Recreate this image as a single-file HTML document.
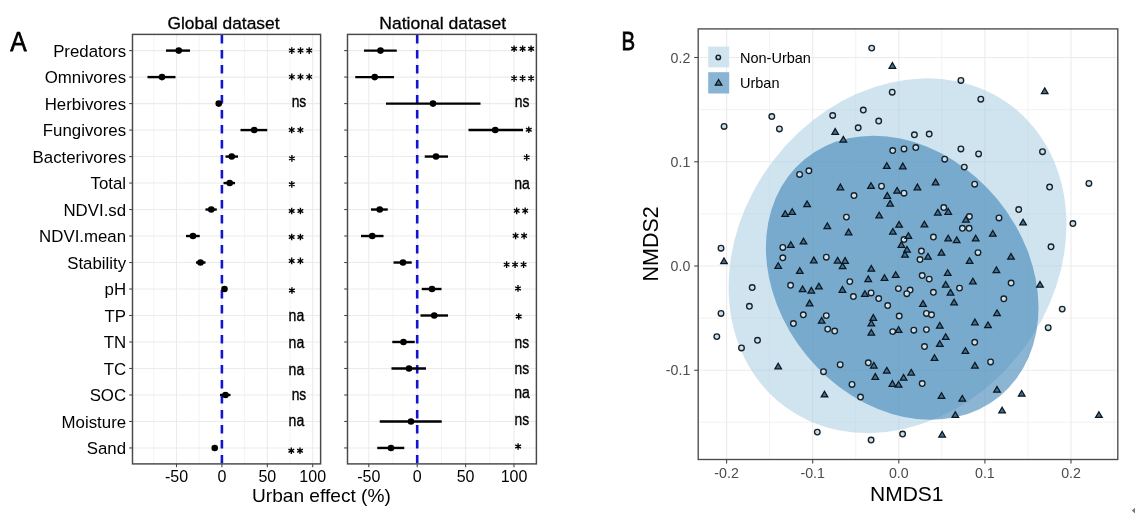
<!DOCTYPE html>
<html><head><meta charset="utf-8"><style>
html,body{margin:0;padding:0;background:#fff;width:1135px;height:513px;overflow:hidden}
svg{display:block;filter:blur(0.3px);font-family:"Liberation Sans", sans-serif}
</style></head><body>
<svg width="1135" height="513" viewBox="0 0 1135 513">
<rect width="1135" height="513" fill="#fff"/>
<text x="10.2" y="50.7" font-size="27.5" textLength="16.4" lengthAdjust="spacingAndGlyphs" fill="#000" stroke="#000" stroke-width="0.75">A</text>
<text x="126.1" y="56.80" font-size="17.4" text-anchor="end" textLength="72.97" lengthAdjust="spacingAndGlyphs" fill="#000">Predators</text>
<text x="126.1" y="83.29" font-size="17.4" text-anchor="end" textLength="81.36" lengthAdjust="spacingAndGlyphs" fill="#000">Omnivores</text>
<text x="126.1" y="109.78" font-size="17.4" text-anchor="end" textLength="81.37" lengthAdjust="spacingAndGlyphs" fill="#000">Herbivores</text>
<text x="126.1" y="136.27" font-size="17.4" text-anchor="end" textLength="83.25" lengthAdjust="spacingAndGlyphs" fill="#000">Fungivores</text>
<text x="126.1" y="162.76" font-size="17.4" text-anchor="end" textLength="93.54" lengthAdjust="spacingAndGlyphs" fill="#000">Bacterivores</text>
<text x="126.1" y="189.25" font-size="17.4" text-anchor="end" textLength="35.55" lengthAdjust="spacingAndGlyphs" fill="#000">Total</text>
<text x="126.1" y="215.74" font-size="17.4" text-anchor="end" textLength="62.66" lengthAdjust="spacingAndGlyphs" fill="#000">NDVI.sd</text>
<text x="126.1" y="242.23" font-size="17.4" text-anchor="end" textLength="86.99" lengthAdjust="spacingAndGlyphs" fill="#000">NDVI.mean</text>
<text x="126.1" y="268.72" font-size="17.4" text-anchor="end" textLength="58.93" lengthAdjust="spacingAndGlyphs" fill="#000">Stability</text>
<text x="126.1" y="295.21" font-size="17.4" text-anchor="end" textLength="21.51" lengthAdjust="spacingAndGlyphs" fill="#000">pH</text>
<text x="126.1" y="321.70" font-size="17.4" text-anchor="end" textLength="21.51" lengthAdjust="spacingAndGlyphs" fill="#000">TP</text>
<text x="126.1" y="348.19" font-size="17.4" text-anchor="end" textLength="22.43" lengthAdjust="spacingAndGlyphs" fill="#000">TN</text>
<text x="126.1" y="374.68" font-size="17.4" text-anchor="end" textLength="22.43" lengthAdjust="spacingAndGlyphs" fill="#000">TC</text>
<text x="126.1" y="401.17" font-size="17.4" text-anchor="end" textLength="36.47" lengthAdjust="spacingAndGlyphs" fill="#000">SOC</text>
<text x="126.1" y="427.66" font-size="17.4" text-anchor="end" textLength="64.53" lengthAdjust="spacingAndGlyphs" fill="#000">Moisture</text>
<text x="126.1" y="454.15" font-size="17.4" text-anchor="end" textLength="39.31" lengthAdjust="spacingAndGlyphs" fill="#000">Sand</text>
<text x="223.5" y="29.4" font-size="17.4" text-anchor="middle" textLength="112" lengthAdjust="spacingAndGlyphs" fill="#000" stroke="#000" stroke-width="0.3">Global dataset</text>
<text x="442.7" y="29.4" font-size="17.4" text-anchor="middle" textLength="127" lengthAdjust="spacingAndGlyphs" fill="#000" stroke="#000" stroke-width="0.3">National dataset</text>
<line x1="153.80" y1="34.4" x2="153.80" y2="463.9" stroke="#ebebeb" stroke-width="0.6"/>
<line x1="176.50" y1="34.4" x2="176.50" y2="463.9" stroke="#ebebeb" stroke-width="1.1"/>
<line x1="199.20" y1="34.4" x2="199.20" y2="463.9" stroke="#ebebeb" stroke-width="0.6"/>
<line x1="221.90" y1="34.4" x2="221.90" y2="463.9" stroke="#ebebeb" stroke-width="1.1"/>
<line x1="244.60" y1="34.4" x2="244.60" y2="463.9" stroke="#ebebeb" stroke-width="0.6"/>
<line x1="267.30" y1="34.4" x2="267.30" y2="463.9" stroke="#ebebeb" stroke-width="1.1"/>
<line x1="290.00" y1="34.4" x2="290.00" y2="463.9" stroke="#ebebeb" stroke-width="0.6"/>
<line x1="312.70" y1="34.4" x2="312.70" y2="463.9" stroke="#ebebeb" stroke-width="1.1"/>
<line x1="132.5" y1="50.60" x2="320.6" y2="50.60" stroke="#ebebeb" stroke-width="1.1"/>
<line x1="132.5" y1="77.09" x2="320.6" y2="77.09" stroke="#ebebeb" stroke-width="1.1"/>
<line x1="132.5" y1="103.58" x2="320.6" y2="103.58" stroke="#ebebeb" stroke-width="1.1"/>
<line x1="132.5" y1="130.07" x2="320.6" y2="130.07" stroke="#ebebeb" stroke-width="1.1"/>
<line x1="132.5" y1="156.56" x2="320.6" y2="156.56" stroke="#ebebeb" stroke-width="1.1"/>
<line x1="132.5" y1="183.05" x2="320.6" y2="183.05" stroke="#ebebeb" stroke-width="1.1"/>
<line x1="132.5" y1="209.54" x2="320.6" y2="209.54" stroke="#ebebeb" stroke-width="1.1"/>
<line x1="132.5" y1="236.03" x2="320.6" y2="236.03" stroke="#ebebeb" stroke-width="1.1"/>
<line x1="132.5" y1="262.52" x2="320.6" y2="262.52" stroke="#ebebeb" stroke-width="1.1"/>
<line x1="132.5" y1="289.01" x2="320.6" y2="289.01" stroke="#ebebeb" stroke-width="1.1"/>
<line x1="132.5" y1="315.50" x2="320.6" y2="315.50" stroke="#ebebeb" stroke-width="1.1"/>
<line x1="132.5" y1="341.99" x2="320.6" y2="341.99" stroke="#ebebeb" stroke-width="1.1"/>
<line x1="132.5" y1="368.48" x2="320.6" y2="368.48" stroke="#ebebeb" stroke-width="1.1"/>
<line x1="132.5" y1="394.97" x2="320.6" y2="394.97" stroke="#ebebeb" stroke-width="1.1"/>
<line x1="132.5" y1="421.46" x2="320.6" y2="421.46" stroke="#ebebeb" stroke-width="1.1"/>
<line x1="132.5" y1="447.95" x2="320.6" y2="447.95" stroke="#ebebeb" stroke-width="1.1"/>
<line x1="221.90" y1="35.0" x2="221.90" y2="463.9" stroke="#1414d0" stroke-width="2.6" stroke-dasharray="8.6 6.4"/>
<line x1="166" y1="50.60" x2="190" y2="50.60" stroke="#000" stroke-width="2.4"/>
<circle cx="178.75" cy="50.60" r="3.3" fill="#000"/>
<line x1="147.5" y1="77.09" x2="175.5" y2="77.09" stroke="#000" stroke-width="2.4"/>
<circle cx="162" cy="77.09" r="3.3" fill="#000"/>
<line x1="217" y1="103.58" x2="221" y2="103.58" stroke="#000" stroke-width="2.4"/>
<circle cx="218.75" cy="103.58" r="3.3" fill="#000"/>
<line x1="240.5" y1="130.07" x2="267.25" y2="130.07" stroke="#000" stroke-width="2.4"/>
<circle cx="254.25" cy="130.07" r="3.3" fill="#000"/>
<line x1="225.5" y1="156.56" x2="238" y2="156.56" stroke="#000" stroke-width="2.4"/>
<circle cx="231.75" cy="156.56" r="3.3" fill="#000"/>
<line x1="223.5" y1="183.05" x2="235" y2="183.05" stroke="#000" stroke-width="2.4"/>
<circle cx="229.75" cy="183.05" r="3.3" fill="#000"/>
<line x1="205.5" y1="209.54" x2="216.75" y2="209.54" stroke="#000" stroke-width="2.4"/>
<circle cx="211.25" cy="209.54" r="3.3" fill="#000"/>
<line x1="186" y1="236.03" x2="199.75" y2="236.03" stroke="#000" stroke-width="2.4"/>
<circle cx="193" cy="236.03" r="3.3" fill="#000"/>
<line x1="196" y1="262.52" x2="205.5" y2="262.52" stroke="#000" stroke-width="2.4"/>
<circle cx="200.5" cy="262.52" r="3.3" fill="#000"/>
<line x1="222" y1="289.01" x2="227" y2="289.01" stroke="#000" stroke-width="2.4"/>
<circle cx="224.5" cy="289.01" r="3.3" fill="#000"/>
<line x1="220" y1="394.97" x2="230.5" y2="394.97" stroke="#000" stroke-width="2.4"/>
<circle cx="225.5" cy="394.97" r="3.3" fill="#000"/>
<line x1="213" y1="447.95" x2="216" y2="447.95" stroke="#000" stroke-width="2.4"/>
<circle cx="214.75" cy="447.95" r="3.3" fill="#000"/>
<rect x="132.5" y="34.4" width="188.10" height="429.50" fill="none" stroke="#484848" stroke-width="1.45"/>
<line x1="129.20" y1="50.60" x2="132.5" y2="50.60" stroke="#484848" stroke-width="1.1"/>
<line x1="129.20" y1="77.09" x2="132.5" y2="77.09" stroke="#484848" stroke-width="1.1"/>
<line x1="129.20" y1="103.58" x2="132.5" y2="103.58" stroke="#484848" stroke-width="1.1"/>
<line x1="129.20" y1="130.07" x2="132.5" y2="130.07" stroke="#484848" stroke-width="1.1"/>
<line x1="129.20" y1="156.56" x2="132.5" y2="156.56" stroke="#484848" stroke-width="1.1"/>
<line x1="129.20" y1="183.05" x2="132.5" y2="183.05" stroke="#484848" stroke-width="1.1"/>
<line x1="129.20" y1="209.54" x2="132.5" y2="209.54" stroke="#484848" stroke-width="1.1"/>
<line x1="129.20" y1="236.03" x2="132.5" y2="236.03" stroke="#484848" stroke-width="1.1"/>
<line x1="129.20" y1="262.52" x2="132.5" y2="262.52" stroke="#484848" stroke-width="1.1"/>
<line x1="129.20" y1="289.01" x2="132.5" y2="289.01" stroke="#484848" stroke-width="1.1"/>
<line x1="129.20" y1="315.50" x2="132.5" y2="315.50" stroke="#484848" stroke-width="1.1"/>
<line x1="129.20" y1="341.99" x2="132.5" y2="341.99" stroke="#484848" stroke-width="1.1"/>
<line x1="129.20" y1="368.48" x2="132.5" y2="368.48" stroke="#484848" stroke-width="1.1"/>
<line x1="129.20" y1="394.97" x2="132.5" y2="394.97" stroke="#484848" stroke-width="1.1"/>
<line x1="129.20" y1="421.46" x2="132.5" y2="421.46" stroke="#484848" stroke-width="1.1"/>
<line x1="129.20" y1="447.95" x2="132.5" y2="447.95" stroke="#484848" stroke-width="1.1"/>
<line x1="176.50" y1="463.9" x2="176.50" y2="467.20" stroke="#484848" stroke-width="1.1"/>
<text x="176.50" y="481.7" font-size="16" text-anchor="middle" fill="#000">-50</text>
<line x1="221.90" y1="463.9" x2="221.90" y2="467.20" stroke="#484848" stroke-width="1.1"/>
<text x="221.90" y="481.7" font-size="16" text-anchor="middle" fill="#000">0</text>
<line x1="267.30" y1="463.9" x2="267.30" y2="467.20" stroke="#484848" stroke-width="1.1"/>
<text x="267.30" y="481.7" font-size="16" text-anchor="middle" fill="#000">50</text>
<line x1="312.70" y1="463.9" x2="312.70" y2="467.20" stroke="#484848" stroke-width="1.1"/>
<text x="312.70" y="481.7" font-size="16" text-anchor="middle" fill="#000">100</text>
<path d="M291.80 47.30V53.90M288.94 48.95L294.66 52.25M288.94 52.25L294.66 48.95" stroke="#000" stroke-width="1.35"/>
<path d="M300.50 47.30V53.90M297.64 48.95L303.36 52.25M297.64 52.25L303.36 48.95" stroke="#000" stroke-width="1.35"/>
<path d="M309.20 47.30V53.90M306.34 48.95L312.06 52.25M306.34 52.25L312.06 48.95" stroke="#000" stroke-width="1.35"/>
<path d="M291.80 73.59V80.19M288.94 75.24L294.66 78.54M288.94 78.54L294.66 75.24" stroke="#000" stroke-width="1.35"/>
<path d="M300.50 73.59V80.19M297.64 75.24L303.36 78.54M297.64 78.54L303.36 75.24" stroke="#000" stroke-width="1.35"/>
<path d="M309.20 73.59V80.19M306.34 75.24L312.06 78.54M306.34 78.54L312.06 75.24" stroke="#000" stroke-width="1.35"/>
<text x="291.7" y="107.28" font-size="16" textLength="14.6" lengthAdjust="spacingAndGlyphs" fill="#000" stroke="#000" stroke-width="0.35">ns</text>
<path d="M291.70 126.77V133.37M288.84 128.42L294.56 131.72M288.84 131.72L294.56 128.42" stroke="#000" stroke-width="1.35"/>
<path d="M300.40 126.77V133.37M297.54 128.42L303.26 131.72M297.54 131.72L303.26 128.42" stroke="#000" stroke-width="1.35"/>
<path d="M291.90 155.06V161.66M289.04 156.71L294.76 160.01M289.04 160.01L294.76 156.71" stroke="#000" stroke-width="1.35"/>
<path d="M291.80 181.05V187.65M288.94 182.70L294.66 186.00M288.94 186.00L294.66 182.70" stroke="#000" stroke-width="1.35"/>
<path d="M291.70 207.74V214.34M288.84 209.39L294.56 212.69M288.84 212.69L294.56 209.39" stroke="#000" stroke-width="1.35"/>
<path d="M300.40 207.74V214.34M297.54 209.39L303.26 212.69M297.54 212.69L303.26 209.39" stroke="#000" stroke-width="1.35"/>
<path d="M291.70 233.73V240.33M288.84 235.38L294.56 238.68M288.84 238.68L294.56 235.38" stroke="#000" stroke-width="1.35"/>
<path d="M300.40 233.73V240.33M297.54 235.38L303.26 238.68M297.54 238.68L303.26 235.38" stroke="#000" stroke-width="1.35"/>
<path d="M291.70 257.62V264.22M288.84 259.27L294.56 262.57M288.84 262.57L294.56 259.27" stroke="#000" stroke-width="1.35"/>
<path d="M300.40 257.62V264.22M297.54 259.27L303.26 262.57M297.54 262.57L303.26 259.27" stroke="#000" stroke-width="1.35"/>
<path d="M291.90 287.21V293.81M289.04 288.86L294.76 292.16M289.04 292.16L294.76 288.86" stroke="#000" stroke-width="1.35"/>
<text x="288.6" y="320.70" font-size="16" textLength="15.6" lengthAdjust="spacingAndGlyphs" fill="#000" stroke="#000" stroke-width="0.35">na</text>
<text x="288.6" y="347.59" font-size="16" textLength="15.6" lengthAdjust="spacingAndGlyphs" fill="#000" stroke="#000" stroke-width="0.35">na</text>
<text x="288.6" y="374.58" font-size="16" textLength="15.6" lengthAdjust="spacingAndGlyphs" fill="#000" stroke="#000" stroke-width="0.35">na</text>
<text x="291.7" y="399.97" font-size="16" textLength="14.6" lengthAdjust="spacingAndGlyphs" fill="#000" stroke="#000" stroke-width="0.35">ns</text>
<text x="288.6" y="426.26" font-size="16" textLength="15.6" lengthAdjust="spacingAndGlyphs" fill="#000" stroke="#000" stroke-width="0.35">na</text>
<path d="M291.30 447.45V454.05M288.44 449.10L294.16 452.40M288.44 452.40L294.16 449.10" stroke="#000" stroke-width="1.35"/>
<path d="M300.00 447.45V454.05M297.14 449.10L302.86 452.40M297.14 452.40L302.86 449.10" stroke="#000" stroke-width="1.35"/>
<line x1="368.80" y1="34.4" x2="368.80" y2="463.9" stroke="#ebebeb" stroke-width="1.1"/>
<line x1="393.00" y1="34.4" x2="393.00" y2="463.9" stroke="#ebebeb" stroke-width="0.6"/>
<line x1="417.20" y1="34.4" x2="417.20" y2="463.9" stroke="#ebebeb" stroke-width="1.1"/>
<line x1="441.40" y1="34.4" x2="441.40" y2="463.9" stroke="#ebebeb" stroke-width="0.6"/>
<line x1="465.60" y1="34.4" x2="465.60" y2="463.9" stroke="#ebebeb" stroke-width="1.1"/>
<line x1="489.80" y1="34.4" x2="489.80" y2="463.9" stroke="#ebebeb" stroke-width="0.6"/>
<line x1="514.00" y1="34.4" x2="514.00" y2="463.9" stroke="#ebebeb" stroke-width="1.1"/>
<line x1="347.5" y1="50.60" x2="536.4" y2="50.60" stroke="#ebebeb" stroke-width="1.1"/>
<line x1="347.5" y1="77.09" x2="536.4" y2="77.09" stroke="#ebebeb" stroke-width="1.1"/>
<line x1="347.5" y1="103.58" x2="536.4" y2="103.58" stroke="#ebebeb" stroke-width="1.1"/>
<line x1="347.5" y1="130.07" x2="536.4" y2="130.07" stroke="#ebebeb" stroke-width="1.1"/>
<line x1="347.5" y1="156.56" x2="536.4" y2="156.56" stroke="#ebebeb" stroke-width="1.1"/>
<line x1="347.5" y1="183.05" x2="536.4" y2="183.05" stroke="#ebebeb" stroke-width="1.1"/>
<line x1="347.5" y1="209.54" x2="536.4" y2="209.54" stroke="#ebebeb" stroke-width="1.1"/>
<line x1="347.5" y1="236.03" x2="536.4" y2="236.03" stroke="#ebebeb" stroke-width="1.1"/>
<line x1="347.5" y1="262.52" x2="536.4" y2="262.52" stroke="#ebebeb" stroke-width="1.1"/>
<line x1="347.5" y1="289.01" x2="536.4" y2="289.01" stroke="#ebebeb" stroke-width="1.1"/>
<line x1="347.5" y1="315.50" x2="536.4" y2="315.50" stroke="#ebebeb" stroke-width="1.1"/>
<line x1="347.5" y1="341.99" x2="536.4" y2="341.99" stroke="#ebebeb" stroke-width="1.1"/>
<line x1="347.5" y1="368.48" x2="536.4" y2="368.48" stroke="#ebebeb" stroke-width="1.1"/>
<line x1="347.5" y1="394.97" x2="536.4" y2="394.97" stroke="#ebebeb" stroke-width="1.1"/>
<line x1="347.5" y1="421.46" x2="536.4" y2="421.46" stroke="#ebebeb" stroke-width="1.1"/>
<line x1="347.5" y1="447.95" x2="536.4" y2="447.95" stroke="#ebebeb" stroke-width="1.1"/>
<line x1="417.20" y1="35.0" x2="417.20" y2="463.9" stroke="#1414d0" stroke-width="2.6" stroke-dasharray="8.6 6.4"/>
<line x1="364" y1="50.60" x2="396.75" y2="50.60" stroke="#000" stroke-width="2.4"/>
<circle cx="380.5" cy="50.60" r="3.3" fill="#000"/>
<line x1="355.25" y1="77.09" x2="394" y2="77.09" stroke="#000" stroke-width="2.4"/>
<circle cx="374.75" cy="77.09" r="3.3" fill="#000"/>
<line x1="386" y1="103.58" x2="480.5" y2="103.58" stroke="#000" stroke-width="2.4"/>
<circle cx="433" cy="103.58" r="3.3" fill="#000"/>
<line x1="468.5" y1="130.07" x2="523" y2="130.07" stroke="#000" stroke-width="2.4"/>
<circle cx="495.25" cy="130.07" r="3.3" fill="#000"/>
<line x1="424.75" y1="156.56" x2="448" y2="156.56" stroke="#000" stroke-width="2.4"/>
<circle cx="436" cy="156.56" r="3.3" fill="#000"/>
<line x1="371" y1="209.54" x2="387.75" y2="209.54" stroke="#000" stroke-width="2.4"/>
<circle cx="379.75" cy="209.54" r="3.3" fill="#000"/>
<line x1="361" y1="236.03" x2="383.5" y2="236.03" stroke="#000" stroke-width="2.4"/>
<circle cx="372.25" cy="236.03" r="3.3" fill="#000"/>
<line x1="393.5" y1="262.52" x2="411.75" y2="262.52" stroke="#000" stroke-width="2.4"/>
<circle cx="403" cy="262.52" r="3.3" fill="#000"/>
<line x1="421.75" y1="289.01" x2="441.5" y2="289.01" stroke="#000" stroke-width="2.4"/>
<circle cx="432" cy="289.01" r="3.3" fill="#000"/>
<line x1="420.5" y1="315.50" x2="448" y2="315.50" stroke="#000" stroke-width="2.4"/>
<circle cx="434.25" cy="315.50" r="3.3" fill="#000"/>
<line x1="392.25" y1="341.99" x2="414.75" y2="341.99" stroke="#000" stroke-width="2.4"/>
<circle cx="403.5" cy="341.99" r="3.3" fill="#000"/>
<line x1="391.5" y1="368.48" x2="426" y2="368.48" stroke="#000" stroke-width="2.4"/>
<circle cx="409" cy="368.48" r="3.3" fill="#000"/>
<line x1="379.75" y1="421.46" x2="441.75" y2="421.46" stroke="#000" stroke-width="2.4"/>
<circle cx="411" cy="421.46" r="3.3" fill="#000"/>
<line x1="377.25" y1="447.95" x2="404.25" y2="447.95" stroke="#000" stroke-width="2.4"/>
<circle cx="391" cy="447.95" r="3.3" fill="#000"/>
<rect x="347.5" y="34.4" width="188.90" height="429.50" fill="none" stroke="#484848" stroke-width="1.45"/>
<line x1="344.20" y1="50.60" x2="347.5" y2="50.60" stroke="#484848" stroke-width="1.1"/>
<line x1="344.20" y1="77.09" x2="347.5" y2="77.09" stroke="#484848" stroke-width="1.1"/>
<line x1="344.20" y1="103.58" x2="347.5" y2="103.58" stroke="#484848" stroke-width="1.1"/>
<line x1="344.20" y1="130.07" x2="347.5" y2="130.07" stroke="#484848" stroke-width="1.1"/>
<line x1="344.20" y1="156.56" x2="347.5" y2="156.56" stroke="#484848" stroke-width="1.1"/>
<line x1="344.20" y1="183.05" x2="347.5" y2="183.05" stroke="#484848" stroke-width="1.1"/>
<line x1="344.20" y1="209.54" x2="347.5" y2="209.54" stroke="#484848" stroke-width="1.1"/>
<line x1="344.20" y1="236.03" x2="347.5" y2="236.03" stroke="#484848" stroke-width="1.1"/>
<line x1="344.20" y1="262.52" x2="347.5" y2="262.52" stroke="#484848" stroke-width="1.1"/>
<line x1="344.20" y1="289.01" x2="347.5" y2="289.01" stroke="#484848" stroke-width="1.1"/>
<line x1="344.20" y1="315.50" x2="347.5" y2="315.50" stroke="#484848" stroke-width="1.1"/>
<line x1="344.20" y1="341.99" x2="347.5" y2="341.99" stroke="#484848" stroke-width="1.1"/>
<line x1="344.20" y1="368.48" x2="347.5" y2="368.48" stroke="#484848" stroke-width="1.1"/>
<line x1="344.20" y1="394.97" x2="347.5" y2="394.97" stroke="#484848" stroke-width="1.1"/>
<line x1="344.20" y1="421.46" x2="347.5" y2="421.46" stroke="#484848" stroke-width="1.1"/>
<line x1="344.20" y1="447.95" x2="347.5" y2="447.95" stroke="#484848" stroke-width="1.1"/>
<line x1="368.80" y1="463.9" x2="368.80" y2="467.20" stroke="#484848" stroke-width="1.1"/>
<text x="368.80" y="481.7" font-size="16" text-anchor="middle" fill="#000">-50</text>
<line x1="417.20" y1="463.9" x2="417.20" y2="467.20" stroke="#484848" stroke-width="1.1"/>
<text x="417.20" y="481.7" font-size="16" text-anchor="middle" fill="#000">0</text>
<line x1="465.60" y1="463.9" x2="465.60" y2="467.20" stroke="#484848" stroke-width="1.1"/>
<text x="465.60" y="481.7" font-size="16" text-anchor="middle" fill="#000">50</text>
<line x1="514.00" y1="463.9" x2="514.00" y2="467.20" stroke="#484848" stroke-width="1.1"/>
<text x="514.00" y="481.7" font-size="16" text-anchor="middle" fill="#000">100</text>
<path d="M514.10 45.40V52.00M511.24 47.05L516.96 50.35M511.24 50.35L516.96 47.05" stroke="#000" stroke-width="1.35"/>
<path d="M522.60 45.40V52.00M519.74 47.05L525.46 50.35M519.74 50.35L525.46 47.05" stroke="#000" stroke-width="1.35"/>
<path d="M531.10 45.40V52.00M528.24 47.05L533.96 50.35M528.24 50.35L533.96 47.05" stroke="#000" stroke-width="1.35"/>
<path d="M514.10 75.09V81.69M511.24 76.74L516.96 80.04M511.24 80.04L516.96 76.74" stroke="#000" stroke-width="1.35"/>
<path d="M522.60 75.09V81.69M519.74 76.74L525.46 80.04M519.74 80.04L525.46 76.74" stroke="#000" stroke-width="1.35"/>
<path d="M531.10 75.09V81.69M528.24 76.74L533.96 80.04M528.24 80.04L533.96 76.74" stroke="#000" stroke-width="1.35"/>
<text x="514.8" y="107.48" font-size="16" textLength="14.6" lengthAdjust="spacingAndGlyphs" fill="#000" stroke="#000" stroke-width="0.35">ns</text>
<path d="M528.80 126.47V133.07M525.94 128.12L531.66 131.42M525.94 131.42L531.66 128.12" stroke="#000" stroke-width="1.35"/>
<path d="M526.70 154.06V160.66M523.84 155.71L529.56 159.01M523.84 159.01L529.56 155.71" stroke="#000" stroke-width="1.35"/>
<text x="514.2" y="188.65" font-size="16" textLength="15.6" lengthAdjust="spacingAndGlyphs" fill="#000" stroke="#000" stroke-width="0.35">na</text>
<path d="M516.70 207.54V214.14M513.84 209.19L519.56 212.49M513.84 212.49L519.56 209.19" stroke="#000" stroke-width="1.35"/>
<path d="M525.20 207.54V214.14M522.34 209.19L528.06 212.49M522.34 212.49L528.06 209.19" stroke="#000" stroke-width="1.35"/>
<path d="M515.60 232.53V239.13M512.74 234.18L518.46 237.48M512.74 237.48L518.46 234.18" stroke="#000" stroke-width="1.35"/>
<path d="M524.10 232.53V239.13M521.24 234.18L526.96 237.48M521.24 237.48L526.96 234.18" stroke="#000" stroke-width="1.35"/>
<path d="M506.60 261.32V267.92M503.74 262.97L509.46 266.27M503.74 266.27L509.46 262.97" stroke="#000" stroke-width="1.35"/>
<path d="M515.10 261.32V267.92M512.24 262.97L517.96 266.27M512.24 266.27L517.96 262.97" stroke="#000" stroke-width="1.35"/>
<path d="M523.60 261.32V267.92M520.74 262.97L526.46 266.27M520.74 266.27L526.46 262.97" stroke="#000" stroke-width="1.35"/>
<path d="M518.00 285.11V291.71M515.14 286.76L520.86 290.06M515.14 290.06L520.86 286.76" stroke="#000" stroke-width="1.35"/>
<path d="M518.70 313.20V319.80M515.84 314.85L521.56 318.15M515.84 318.15L521.56 314.85" stroke="#000" stroke-width="1.35"/>
<text x="514.6" y="348.49" font-size="16" textLength="14.6" lengthAdjust="spacingAndGlyphs" fill="#000" stroke="#000" stroke-width="0.35">ns</text>
<text x="514.6" y="373.58" font-size="16" textLength="14.6" lengthAdjust="spacingAndGlyphs" fill="#000" stroke="#000" stroke-width="0.35">ns</text>
<text x="514.2" y="397.87" font-size="16" textLength="15.6" lengthAdjust="spacingAndGlyphs" fill="#000" stroke="#000" stroke-width="0.35">na</text>
<text x="514.6" y="424.66" font-size="16" textLength="14.6" lengthAdjust="spacingAndGlyphs" fill="#000" stroke="#000" stroke-width="0.35">ns</text>
<path d="M518.10 443.15V449.75M515.24 444.80L520.96 448.10M515.24 448.10L520.96 444.80" stroke="#000" stroke-width="1.35"/>
<text x="321.4" y="501.8" font-size="18.5" text-anchor="middle" textLength="138.7" lengthAdjust="spacingAndGlyphs" fill="#000">Urban effect (%)</text>
<text x="621.4" y="50.4" font-size="26.5" textLength="13.6" lengthAdjust="spacingAndGlyphs" fill="#000" stroke="#000" stroke-width="0.8">B</text>
<defs><clipPath id="cb"><rect x="698.2" y="28.9" width="419.60" height="430.60"/></clipPath></defs>
<g clip-path="url(#cb)">
<line x1="726.60" y1="28.9" x2="726.60" y2="459.5" stroke="#ebebeb" stroke-width="1.1"/>
<line x1="769.65" y1="28.9" x2="769.65" y2="459.5" stroke="#ebebeb" stroke-width="0.6"/>
<line x1="698.2" y1="422.38" x2="1117.8" y2="422.38" stroke="#ebebeb" stroke-width="0.6"/>
<line x1="812.70" y1="28.9" x2="812.70" y2="459.5" stroke="#ebebeb" stroke-width="1.1"/>
<line x1="698.2" y1="370.25" x2="1117.8" y2="370.25" stroke="#ebebeb" stroke-width="1.1"/>
<line x1="855.75" y1="28.9" x2="855.75" y2="459.5" stroke="#ebebeb" stroke-width="0.6"/>
<line x1="698.2" y1="318.12" x2="1117.8" y2="318.12" stroke="#ebebeb" stroke-width="0.6"/>
<line x1="898.80" y1="28.9" x2="898.80" y2="459.5" stroke="#ebebeb" stroke-width="1.1"/>
<line x1="698.2" y1="266.00" x2="1117.8" y2="266.00" stroke="#ebebeb" stroke-width="1.1"/>
<line x1="941.85" y1="28.9" x2="941.85" y2="459.5" stroke="#ebebeb" stroke-width="0.6"/>
<line x1="698.2" y1="213.88" x2="1117.8" y2="213.88" stroke="#ebebeb" stroke-width="0.6"/>
<line x1="984.90" y1="28.9" x2="984.90" y2="459.5" stroke="#ebebeb" stroke-width="1.1"/>
<line x1="698.2" y1="161.75" x2="1117.8" y2="161.75" stroke="#ebebeb" stroke-width="1.1"/>
<line x1="1027.95" y1="28.9" x2="1027.95" y2="459.5" stroke="#ebebeb" stroke-width="0.6"/>
<line x1="698.2" y1="109.62" x2="1117.8" y2="109.62" stroke="#ebebeb" stroke-width="0.6"/>
<line x1="1071.00" y1="28.9" x2="1071.00" y2="459.5" stroke="#ebebeb" stroke-width="1.1"/>
<line x1="698.2" y1="57.50" x2="1117.8" y2="57.50" stroke="#ebebeb" stroke-width="1.1"/>
<line x1="1114.05" y1="28.9" x2="1114.05" y2="459.5" stroke="#ebebeb" stroke-width="0.6"/>
<ellipse cx="897.51" cy="255.73" rx="156.61" ry="188.32" transform="rotate(37.26 897.51 255.73)" fill="#aacee2" fill-opacity="0.55"/>
<ellipse cx="902.21" cy="277.68" rx="153.46" ry="123.32" transform="rotate(50.52 902.21 277.68)" fill="#3d83b6" fill-opacity="0.6"/>
<circle cx="724.1" cy="126.4" r="2.8" fill="#cddfe9" stroke="#16222b" stroke-width="1.35"/>
<circle cx="771.8" cy="116.6" r="2.8" fill="#cddfe9" stroke="#16222b" stroke-width="1.35"/>
<circle cx="779.4" cy="128.9" r="2.8" fill="#cddfe9" stroke="#16222b" stroke-width="1.35"/>
<circle cx="832.7" cy="115.5" r="2.8" fill="#cddfe9" stroke="#16222b" stroke-width="1.35"/>
<circle cx="808.9" cy="170.8" r="2.8" fill="#cddfe9" stroke="#16222b" stroke-width="1.35"/>
<circle cx="871.7" cy="48.1" r="2.8" fill="#cddfe9" stroke="#16222b" stroke-width="1.35"/>
<circle cx="960.9" cy="80.4" r="2.8" fill="#cddfe9" stroke="#16222b" stroke-width="1.35"/>
<circle cx="892.2" cy="92.2" r="2.8" fill="#cddfe9" stroke="#16222b" stroke-width="1.35"/>
<circle cx="863.3" cy="110.1" r="2.8" fill="#cddfe9" stroke="#16222b" stroke-width="1.35"/>
<circle cx="878.7" cy="121.1" r="2.8" fill="#cddfe9" stroke="#16222b" stroke-width="1.35"/>
<circle cx="858.2" cy="127.8" r="2.8" fill="#cddfe9" stroke="#16222b" stroke-width="1.35"/>
<circle cx="914.4" cy="134.8" r="2.8" fill="#cddfe9" stroke="#16222b" stroke-width="1.35"/>
<circle cx="929.2" cy="134.0" r="2.8" fill="#cddfe9" stroke="#16222b" stroke-width="1.35"/>
<circle cx="892.7" cy="150.5" r="2.8" fill="#cddfe9" stroke="#16222b" stroke-width="1.35"/>
<circle cx="904.0" cy="148.9" r="2.8" fill="#cddfe9" stroke="#16222b" stroke-width="1.35"/>
<circle cx="915.8" cy="147.5" r="2.8" fill="#cddfe9" stroke="#16222b" stroke-width="1.35"/>
<circle cx="960.9" cy="148.9" r="2.8" fill="#cddfe9" stroke="#16222b" stroke-width="1.35"/>
<circle cx="944.7" cy="159.2" r="2.8" fill="#cddfe9" stroke="#16222b" stroke-width="1.35"/>
<circle cx="964.3" cy="167.1" r="2.8" fill="#cddfe9" stroke="#16222b" stroke-width="1.35"/>
<circle cx="978.6" cy="153.9" r="2.8" fill="#cddfe9" stroke="#16222b" stroke-width="1.35"/>
<circle cx="980.8" cy="99.2" r="2.8" fill="#cddfe9" stroke="#16222b" stroke-width="1.35"/>
<circle cx="1042.5" cy="151.7" r="2.8" fill="#cddfe9" stroke="#16222b" stroke-width="1.35"/>
<circle cx="799.6" cy="174.4" r="2.8" fill="#cddfe9" stroke="#16222b" stroke-width="1.35"/>
<circle cx="721.0" cy="248.2" r="2.8" fill="#cddfe9" stroke="#16222b" stroke-width="1.35"/>
<circle cx="782.8" cy="247.4" r="2.8" fill="#cddfe9" stroke="#16222b" stroke-width="1.35"/>
<circle cx="782.8" cy="257.8" r="2.8" fill="#cddfe9" stroke="#16222b" stroke-width="1.35"/>
<circle cx="826.3" cy="257.2" r="2.8" fill="#cddfe9" stroke="#16222b" stroke-width="1.35"/>
<circle cx="752.2" cy="287.5" r="2.8" fill="#cddfe9" stroke="#16222b" stroke-width="1.35"/>
<circle cx="790.6" cy="285.3" r="2.8" fill="#cddfe9" stroke="#16222b" stroke-width="1.35"/>
<circle cx="749.4" cy="306.3" r="2.8" fill="#cddfe9" stroke="#16222b" stroke-width="1.35"/>
<circle cx="721.0" cy="313.4" r="2.8" fill="#cddfe9" stroke="#16222b" stroke-width="1.35"/>
<circle cx="803.3" cy="314.8" r="2.8" fill="#cddfe9" stroke="#16222b" stroke-width="1.35"/>
<circle cx="826.3" cy="315.6" r="2.8" fill="#cddfe9" stroke="#16222b" stroke-width="1.35"/>
<circle cx="881.5" cy="186.2" r="2.8" fill="#cddfe9" stroke="#16222b" stroke-width="1.35"/>
<circle cx="904.0" cy="193.2" r="2.8" fill="#cddfe9" stroke="#16222b" stroke-width="1.35"/>
<circle cx="974.7" cy="184.2" r="2.8" fill="#cddfe9" stroke="#16222b" stroke-width="1.35"/>
<circle cx="854.0" cy="195.5" r="2.8" fill="#cddfe9" stroke="#16222b" stroke-width="1.35"/>
<circle cx="943.8" cy="207.5" r="2.8" fill="#cddfe9" stroke="#16222b" stroke-width="1.35"/>
<circle cx="969.4" cy="216.5" r="2.8" fill="#cddfe9" stroke="#16222b" stroke-width="1.35"/>
<circle cx="846.4" cy="217.1" r="2.8" fill="#cddfe9" stroke="#16222b" stroke-width="1.35"/>
<circle cx="962.4" cy="228.3" r="2.8" fill="#cddfe9" stroke="#16222b" stroke-width="1.35"/>
<circle cx="969.1" cy="228.3" r="2.8" fill="#cddfe9" stroke="#16222b" stroke-width="1.35"/>
<circle cx="904.0" cy="239.5" r="2.8" fill="#cddfe9" stroke="#16222b" stroke-width="1.35"/>
<circle cx="933.4" cy="237.0" r="2.8" fill="#cddfe9" stroke="#16222b" stroke-width="1.35"/>
<circle cx="921.4" cy="251.0" r="2.8" fill="#cddfe9" stroke="#16222b" stroke-width="1.35"/>
<circle cx="920.0" cy="259.5" r="2.8" fill="#cddfe9" stroke="#16222b" stroke-width="1.35"/>
<circle cx="978.0" cy="252.6" r="2.8" fill="#cddfe9" stroke="#16222b" stroke-width="1.35"/>
<circle cx="849.8" cy="281.6" r="2.8" fill="#cddfe9" stroke="#16222b" stroke-width="1.35"/>
<circle cx="922.2" cy="275.5" r="2.8" fill="#cddfe9" stroke="#16222b" stroke-width="1.35"/>
<circle cx="929.2" cy="279.1" r="2.8" fill="#cddfe9" stroke="#16222b" stroke-width="1.35"/>
<circle cx="959.5" cy="288.1" r="2.8" fill="#cddfe9" stroke="#16222b" stroke-width="1.35"/>
<circle cx="898.4" cy="288.6" r="2.8" fill="#cddfe9" stroke="#16222b" stroke-width="1.35"/>
<circle cx="910.1" cy="290.0" r="2.8" fill="#cddfe9" stroke="#16222b" stroke-width="1.35"/>
<circle cx="906.8" cy="293.7" r="2.8" fill="#cddfe9" stroke="#16222b" stroke-width="1.35"/>
<circle cx="933.4" cy="292.3" r="2.8" fill="#cddfe9" stroke="#16222b" stroke-width="1.35"/>
<circle cx="871.1" cy="292.9" r="2.8" fill="#cddfe9" stroke="#16222b" stroke-width="1.35"/>
<circle cx="853.4" cy="296.5" r="2.8" fill="#cddfe9" stroke="#16222b" stroke-width="1.35"/>
<circle cx="878.7" cy="298.5" r="2.8" fill="#cddfe9" stroke="#16222b" stroke-width="1.35"/>
<circle cx="887.7" cy="305.5" r="2.8" fill="#cddfe9" stroke="#16222b" stroke-width="1.35"/>
<circle cx="899.2" cy="316.0" r="2.8" fill="#cddfe9" stroke="#16222b" stroke-width="1.35"/>
<circle cx="926.4" cy="313.4" r="2.8" fill="#cddfe9" stroke="#16222b" stroke-width="1.35"/>
<circle cx="931.5" cy="314.8" r="2.8" fill="#cddfe9" stroke="#16222b" stroke-width="1.35"/>
<circle cx="1049.6" cy="187.0" r="2.8" fill="#cddfe9" stroke="#16222b" stroke-width="1.35"/>
<circle cx="1088.9" cy="183.4" r="2.8" fill="#cddfe9" stroke="#16222b" stroke-width="1.35"/>
<circle cx="1018.7" cy="209.5" r="2.8" fill="#cddfe9" stroke="#16222b" stroke-width="1.35"/>
<circle cx="999.0" cy="217.9" r="2.8" fill="#cddfe9" stroke="#16222b" stroke-width="1.35"/>
<circle cx="1072.9" cy="223.5" r="2.8" fill="#cddfe9" stroke="#16222b" stroke-width="1.35"/>
<circle cx="1051.0" cy="246.8" r="2.8" fill="#cddfe9" stroke="#16222b" stroke-width="1.35"/>
<circle cx="1011.1" cy="283.0" r="2.8" fill="#cddfe9" stroke="#16222b" stroke-width="1.35"/>
<circle cx="1003.8" cy="298.8" r="2.8" fill="#cddfe9" stroke="#16222b" stroke-width="1.35"/>
<circle cx="1062.2" cy="309.1" r="2.8" fill="#cddfe9" stroke="#16222b" stroke-width="1.35"/>
<circle cx="716.8" cy="336.6" r="2.8" fill="#cddfe9" stroke="#16222b" stroke-width="1.35"/>
<circle cx="741.5" cy="347.9" r="2.8" fill="#cddfe9" stroke="#16222b" stroke-width="1.35"/>
<circle cx="757.5" cy="340.3" r="2.8" fill="#cddfe9" stroke="#16222b" stroke-width="1.35"/>
<circle cx="793.4" cy="323.5" r="2.8" fill="#cddfe9" stroke="#16222b" stroke-width="1.35"/>
<circle cx="827.7" cy="329.1" r="2.8" fill="#cddfe9" stroke="#16222b" stroke-width="1.35"/>
<circle cx="834.7" cy="331.0" r="2.8" fill="#cddfe9" stroke="#16222b" stroke-width="1.35"/>
<circle cx="823.5" cy="371.7" r="2.8" fill="#cddfe9" stroke="#16222b" stroke-width="1.35"/>
<circle cx="817.3" cy="432.1" r="2.8" fill="#cddfe9" stroke="#16222b" stroke-width="1.35"/>
<circle cx="892.7" cy="331.6" r="2.8" fill="#cddfe9" stroke="#16222b" stroke-width="1.35"/>
<circle cx="913.8" cy="330.2" r="2.8" fill="#cddfe9" stroke="#16222b" stroke-width="1.35"/>
<circle cx="926.4" cy="329.6" r="2.8" fill="#cddfe9" stroke="#16222b" stroke-width="1.35"/>
<circle cx="924.5" cy="346.5" r="2.8" fill="#cddfe9" stroke="#16222b" stroke-width="1.35"/>
<circle cx="974.7" cy="342.3" r="2.8" fill="#cddfe9" stroke="#16222b" stroke-width="1.35"/>
<circle cx="840.2" cy="364.7" r="2.8" fill="#cddfe9" stroke="#16222b" stroke-width="1.35"/>
<circle cx="868.3" cy="362.8" r="2.8" fill="#cddfe9" stroke="#16222b" stroke-width="1.35"/>
<circle cx="922.2" cy="383.5" r="2.8" fill="#cddfe9" stroke="#16222b" stroke-width="1.35"/>
<circle cx="852.0" cy="384.4" r="2.8" fill="#cddfe9" stroke="#16222b" stroke-width="1.35"/>
<circle cx="860.5" cy="397.0" r="2.8" fill="#cddfe9" stroke="#16222b" stroke-width="1.35"/>
<circle cx="902.6" cy="434.0" r="2.8" fill="#cddfe9" stroke="#16222b" stroke-width="1.35"/>
<circle cx="871.1" cy="440.0" r="2.8" fill="#cddfe9" stroke="#16222b" stroke-width="1.35"/>
<circle cx="1048.2" cy="327.7" r="2.8" fill="#cddfe9" stroke="#16222b" stroke-width="1.35"/>
<circle cx="990.6" cy="361.9" r="2.8" fill="#cddfe9" stroke="#16222b" stroke-width="1.35"/>
<path d="M835.20 128.60L838.50 134.25L831.90 134.25Z" fill="#426f90" stroke="#0b161e" stroke-width="1.25" stroke-linejoin="miter"/>
<path d="M892.40 62.60L895.70 68.25L889.10 68.25Z" fill="#426f90" stroke="#0b161e" stroke-width="1.25" stroke-linejoin="miter"/>
<path d="M843.30 136.40L846.60 142.05L840.00 142.05Z" fill="#426f90" stroke="#0b161e" stroke-width="1.25" stroke-linejoin="miter"/>
<path d="M886.80 162.80L890.10 168.45L883.50 168.45Z" fill="#426f90" stroke="#0b161e" stroke-width="1.25" stroke-linejoin="miter"/>
<path d="M902.80 163.10L906.10 168.75L899.50 168.75Z" fill="#426f90" stroke="#0b161e" stroke-width="1.25" stroke-linejoin="miter"/>
<path d="M1044.70 87.90L1048.00 93.55L1041.40 93.55Z" fill="#426f90" stroke="#0b161e" stroke-width="1.25" stroke-linejoin="miter"/>
<path d="M807.10 201.00L810.40 206.65L803.80 206.65Z" fill="#426f90" stroke="#0b161e" stroke-width="1.25" stroke-linejoin="miter"/>
<path d="M785.20 210.80L788.50 216.45L781.90 216.45Z" fill="#426f90" stroke="#0b161e" stroke-width="1.25" stroke-linejoin="miter"/>
<path d="M792.20 208.80L795.50 214.45L788.90 214.45Z" fill="#426f90" stroke="#0b161e" stroke-width="1.25" stroke-linejoin="miter"/>
<path d="M827.30 222.90L830.60 228.55L824.00 228.55Z" fill="#426f90" stroke="#0b161e" stroke-width="1.25" stroke-linejoin="miter"/>
<path d="M724.00 258.00L727.30 263.65L720.70 263.65Z" fill="#426f90" stroke="#0b161e" stroke-width="1.25" stroke-linejoin="miter"/>
<path d="M790.80 241.70L794.10 247.35L787.50 247.35Z" fill="#426f90" stroke="#0b161e" stroke-width="1.25" stroke-linejoin="miter"/>
<path d="M803.50 238.30L806.80 243.95L800.20 243.95Z" fill="#426f90" stroke="#0b161e" stroke-width="1.25" stroke-linejoin="miter"/>
<path d="M778.20 262.70L781.50 268.35L774.90 268.35Z" fill="#426f90" stroke="#0b161e" stroke-width="1.25" stroke-linejoin="miter"/>
<path d="M813.80 257.10L817.10 262.75L810.50 262.75Z" fill="#426f90" stroke="#0b161e" stroke-width="1.25" stroke-linejoin="miter"/>
<path d="M799.80 267.80L803.10 273.45L796.50 273.45Z" fill="#426f90" stroke="#0b161e" stroke-width="1.25" stroke-linejoin="miter"/>
<path d="M802.60 286.00L805.90 291.65L799.30 291.65Z" fill="#426f90" stroke="#0b161e" stroke-width="1.25" stroke-linejoin="miter"/>
<path d="M811.30 287.40L814.60 293.05L808.00 293.05Z" fill="#426f90" stroke="#0b161e" stroke-width="1.25" stroke-linejoin="miter"/>
<path d="M818.90 283.20L822.20 288.85L815.60 288.85Z" fill="#426f90" stroke="#0b161e" stroke-width="1.25" stroke-linejoin="miter"/>
<path d="M809.60 300.10L812.90 305.75L806.30 305.75Z" fill="#426f90" stroke="#0b161e" stroke-width="1.25" stroke-linejoin="miter"/>
<path d="M840.40 184.10L843.70 189.75L837.10 189.75Z" fill="#426f90" stroke="#0b161e" stroke-width="1.25" stroke-linejoin="miter"/>
<path d="M871.00 182.70L874.30 188.35L867.70 188.35Z" fill="#426f90" stroke="#0b161e" stroke-width="1.25" stroke-linejoin="miter"/>
<path d="M897.10 187.50L900.40 193.15L893.80 193.15Z" fill="#426f90" stroke="#0b161e" stroke-width="1.25" stroke-linejoin="miter"/>
<path d="M917.40 184.10L920.70 189.75L914.10 189.75Z" fill="#426f90" stroke="#0b161e" stroke-width="1.25" stroke-linejoin="miter"/>
<path d="M935.60 179.10L938.90 184.75L932.30 184.75Z" fill="#426f90" stroke="#0b161e" stroke-width="1.25" stroke-linejoin="miter"/>
<path d="M887.30 192.60L890.60 198.25L884.00 198.25Z" fill="#426f90" stroke="#0b161e" stroke-width="1.25" stroke-linejoin="miter"/>
<path d="M890.10 200.40L893.40 206.05L886.80 206.05Z" fill="#426f90" stroke="#0b161e" stroke-width="1.25" stroke-linejoin="miter"/>
<path d="M937.80 209.40L941.10 215.05L934.50 215.05Z" fill="#426f90" stroke="#0b161e" stroke-width="1.25" stroke-linejoin="miter"/>
<path d="M948.20 208.60L951.50 214.25L944.90 214.25Z" fill="#426f90" stroke="#0b161e" stroke-width="1.25" stroke-linejoin="miter"/>
<path d="M965.90 216.40L969.20 222.05L962.60 222.05Z" fill="#426f90" stroke="#0b161e" stroke-width="1.25" stroke-linejoin="miter"/>
<path d="M879.20 212.20L882.50 217.85L875.90 217.85Z" fill="#426f90" stroke="#0b161e" stroke-width="1.25" stroke-linejoin="miter"/>
<path d="M899.10 221.50L902.40 227.15L895.80 227.15Z" fill="#426f90" stroke="#0b161e" stroke-width="1.25" stroke-linejoin="miter"/>
<path d="M924.40 221.20L927.70 226.85L921.10 226.85Z" fill="#426f90" stroke="#0b161e" stroke-width="1.25" stroke-linejoin="miter"/>
<path d="M848.60 229.10L851.90 234.75L845.30 234.75Z" fill="#426f90" stroke="#0b161e" stroke-width="1.25" stroke-linejoin="miter"/>
<path d="M892.90 228.50L896.20 234.15L889.60 234.15Z" fill="#426f90" stroke="#0b161e" stroke-width="1.25" stroke-linejoin="miter"/>
<path d="M908.40 232.70L911.70 238.35L905.10 238.35Z" fill="#426f90" stroke="#0b161e" stroke-width="1.25" stroke-linejoin="miter"/>
<path d="M901.40 241.70L904.70 247.35L898.10 247.35Z" fill="#426f90" stroke="#0b161e" stroke-width="1.25" stroke-linejoin="miter"/>
<path d="M907.00 246.50L910.30 252.15L903.70 252.15Z" fill="#426f90" stroke="#0b161e" stroke-width="1.25" stroke-linejoin="miter"/>
<path d="M905.00 251.50L908.30 257.15L901.70 257.15Z" fill="#426f90" stroke="#0b161e" stroke-width="1.25" stroke-linejoin="miter"/>
<path d="M948.20 235.20L951.50 240.85L944.90 240.85Z" fill="#426f90" stroke="#0b161e" stroke-width="1.25" stroke-linejoin="miter"/>
<path d="M956.70 236.90L960.00 242.55L953.40 242.55Z" fill="#426f90" stroke="#0b161e" stroke-width="1.25" stroke-linejoin="miter"/>
<path d="M975.70 235.20L979.00 240.85L972.40 240.85Z" fill="#426f90" stroke="#0b161e" stroke-width="1.25" stroke-linejoin="miter"/>
<path d="M928.00 253.50L931.30 259.15L924.70 259.15Z" fill="#426f90" stroke="#0b161e" stroke-width="1.25" stroke-linejoin="miter"/>
<path d="M941.50 249.50L944.80 255.15L938.20 255.15Z" fill="#426f90" stroke="#0b161e" stroke-width="1.25" stroke-linejoin="miter"/>
<path d="M969.60 257.70L972.90 263.35L966.30 263.35Z" fill="#426f90" stroke="#0b161e" stroke-width="1.25" stroke-linejoin="miter"/>
<path d="M837.60 257.40L840.90 263.05L834.30 263.05Z" fill="#426f90" stroke="#0b161e" stroke-width="1.25" stroke-linejoin="miter"/>
<path d="M845.10 257.60L848.40 263.25L841.80 263.25Z" fill="#426f90" stroke="#0b161e" stroke-width="1.25" stroke-linejoin="miter"/>
<path d="M842.60 263.00L845.90 268.65L839.30 268.65Z" fill="#426f90" stroke="#0b161e" stroke-width="1.25" stroke-linejoin="miter"/>
<path d="M871.30 265.50L874.60 271.15L868.00 271.15Z" fill="#426f90" stroke="#0b161e" stroke-width="1.25" stroke-linejoin="miter"/>
<path d="M868.20 275.90L871.50 281.55L864.90 281.55Z" fill="#426f90" stroke="#0b161e" stroke-width="1.25" stroke-linejoin="miter"/>
<path d="M884.50 274.80L887.80 280.45L881.20 280.45Z" fill="#426f90" stroke="#0b161e" stroke-width="1.25" stroke-linejoin="miter"/>
<path d="M895.70 271.70L899.00 277.35L892.40 277.35Z" fill="#426f90" stroke="#0b161e" stroke-width="1.25" stroke-linejoin="miter"/>
<path d="M842.40 286.60L845.70 292.25L839.10 292.25Z" fill="#426f90" stroke="#0b161e" stroke-width="1.25" stroke-linejoin="miter"/>
<path d="M947.70 269.70L951.00 275.35L944.40 275.35Z" fill="#426f90" stroke="#0b161e" stroke-width="1.25" stroke-linejoin="miter"/>
<path d="M972.90 278.20L976.20 283.85L969.60 283.85Z" fill="#426f90" stroke="#0b161e" stroke-width="1.25" stroke-linejoin="miter"/>
<path d="M945.70 281.50L949.00 287.15L942.40 287.15Z" fill="#426f90" stroke="#0b161e" stroke-width="1.25" stroke-linejoin="miter"/>
<path d="M950.50 289.40L953.80 295.05L947.20 295.05Z" fill="#426f90" stroke="#0b161e" stroke-width="1.25" stroke-linejoin="miter"/>
<path d="M864.90 290.80L868.20 296.45L861.60 296.45Z" fill="#426f90" stroke="#0b161e" stroke-width="1.25" stroke-linejoin="miter"/>
<path d="M923.00 300.60L926.30 306.25L919.70 306.25Z" fill="#426f90" stroke="#0b161e" stroke-width="1.25" stroke-linejoin="miter"/>
<path d="M954.10 299.20L957.40 304.85L950.80 304.85Z" fill="#426f90" stroke="#0b161e" stroke-width="1.25" stroke-linejoin="miter"/>
<path d="M873.30 314.60L876.60 320.25L870.00 320.25Z" fill="#426f90" stroke="#0b161e" stroke-width="1.25" stroke-linejoin="miter"/>
<path d="M1023.10 219.20L1026.40 224.85L1019.80 224.85Z" fill="#426f90" stroke="#0b161e" stroke-width="1.25" stroke-linejoin="miter"/>
<path d="M992.80 230.50L996.10 236.15L989.50 236.15Z" fill="#426f90" stroke="#0b161e" stroke-width="1.25" stroke-linejoin="miter"/>
<path d="M1011.00 253.50L1014.30 259.15L1007.70 259.15Z" fill="#426f90" stroke="#0b161e" stroke-width="1.25" stroke-linejoin="miter"/>
<path d="M996.40 266.90L999.70 272.55L993.10 272.55Z" fill="#426f90" stroke="#0b161e" stroke-width="1.25" stroke-linejoin="miter"/>
<path d="M1040.00 281.50L1043.30 287.15L1036.70 287.15Z" fill="#426f90" stroke="#0b161e" stroke-width="1.25" stroke-linejoin="miter"/>
<path d="M997.00 309.90L1000.30 315.55L993.70 315.55Z" fill="#426f90" stroke="#0b161e" stroke-width="1.25" stroke-linejoin="miter"/>
<path d="M778.20 363.20L781.50 368.85L774.90 368.85Z" fill="#426f90" stroke="#0b161e" stroke-width="1.25" stroke-linejoin="miter"/>
<path d="M821.70 317.50L825.00 323.15L818.40 323.15Z" fill="#426f90" stroke="#0b161e" stroke-width="1.25" stroke-linejoin="miter"/>
<path d="M824.50 391.30L827.80 396.95L821.20 396.95Z" fill="#426f90" stroke="#0b161e" stroke-width="1.25" stroke-linejoin="miter"/>
<path d="M871.30 320.30L874.60 325.95L868.00 325.95Z" fill="#426f90" stroke="#0b161e" stroke-width="1.25" stroke-linejoin="miter"/>
<path d="M871.30 329.50L874.60 335.15L868.00 335.15Z" fill="#426f90" stroke="#0b161e" stroke-width="1.25" stroke-linejoin="miter"/>
<path d="M898.60 326.70L901.90 332.35L895.30 332.35Z" fill="#426f90" stroke="#0b161e" stroke-width="1.25" stroke-linejoin="miter"/>
<path d="M939.80 322.50L943.10 328.15L936.50 328.15Z" fill="#426f90" stroke="#0b161e" stroke-width="1.25" stroke-linejoin="miter"/>
<path d="M974.90 319.10L978.20 324.75L971.60 324.75Z" fill="#426f90" stroke="#0b161e" stroke-width="1.25" stroke-linejoin="miter"/>
<path d="M945.70 333.70L949.00 339.35L942.40 339.35Z" fill="#426f90" stroke="#0b161e" stroke-width="1.25" stroke-linejoin="miter"/>
<path d="M939.80 340.80L943.10 346.45L936.50 346.45Z" fill="#426f90" stroke="#0b161e" stroke-width="1.25" stroke-linejoin="miter"/>
<path d="M965.40 347.80L968.70 353.45L962.10 353.45Z" fill="#426f90" stroke="#0b161e" stroke-width="1.25" stroke-linejoin="miter"/>
<path d="M934.50 354.80L937.80 360.45L931.20 360.45Z" fill="#426f90" stroke="#0b161e" stroke-width="1.25" stroke-linejoin="miter"/>
<path d="M974.90 362.40L978.20 368.05L971.60 368.05Z" fill="#426f90" stroke="#0b161e" stroke-width="1.25" stroke-linejoin="miter"/>
<path d="M873.80 362.40L877.10 368.05L870.50 368.05Z" fill="#426f90" stroke="#0b161e" stroke-width="1.25" stroke-linejoin="miter"/>
<path d="M886.80 367.40L890.10 373.05L883.50 373.05Z" fill="#426f90" stroke="#0b161e" stroke-width="1.25" stroke-linejoin="miter"/>
<path d="M875.30 373.60L878.60 379.25L872.00 379.25Z" fill="#426f90" stroke="#0b161e" stroke-width="1.25" stroke-linejoin="miter"/>
<path d="M911.20 369.40L914.50 375.05L907.90 375.05Z" fill="#426f90" stroke="#0b161e" stroke-width="1.25" stroke-linejoin="miter"/>
<path d="M903.60 374.50L906.90 380.15L900.30 380.15Z" fill="#426f90" stroke="#0b161e" stroke-width="1.25" stroke-linejoin="miter"/>
<path d="M892.40 380.60L895.70 386.25L889.10 386.25Z" fill="#426f90" stroke="#0b161e" stroke-width="1.25" stroke-linejoin="miter"/>
<path d="M898.60 381.50L901.90 387.15L895.30 387.15Z" fill="#426f90" stroke="#0b161e" stroke-width="1.25" stroke-linejoin="miter"/>
<path d="M941.50 392.70L944.80 398.35L938.20 398.35Z" fill="#426f90" stroke="#0b161e" stroke-width="1.25" stroke-linejoin="miter"/>
<path d="M962.30 395.50L965.60 401.15L959.00 401.15Z" fill="#426f90" stroke="#0b161e" stroke-width="1.25" stroke-linejoin="miter"/>
<path d="M955.30 411.80L958.60 417.45L952.00 417.45Z" fill="#426f90" stroke="#0b161e" stroke-width="1.25" stroke-linejoin="miter"/>
<path d="M942.10 431.40L945.40 437.05L938.80 437.05Z" fill="#426f90" stroke="#0b161e" stroke-width="1.25" stroke-linejoin="miter"/>
<path d="M988.00 322.00L991.30 327.65L984.70 327.65Z" fill="#426f90" stroke="#0b161e" stroke-width="1.25" stroke-linejoin="miter"/>
<path d="M997.00 386.50L1000.30 392.15L993.70 392.15Z" fill="#426f90" stroke="#0b161e" stroke-width="1.25" stroke-linejoin="miter"/>
<path d="M1021.70 390.50L1025.00 396.15L1018.40 396.15Z" fill="#426f90" stroke="#0b161e" stroke-width="1.25" stroke-linejoin="miter"/>
<path d="M1002.10 407.30L1005.40 412.95L998.80 412.95Z" fill="#426f90" stroke="#0b161e" stroke-width="1.25" stroke-linejoin="miter"/>
<path d="M1098.90 411.80L1102.20 417.45L1095.60 417.45Z" fill="#426f90" stroke="#0b161e" stroke-width="1.25" stroke-linejoin="miter"/>
</g>
<rect x="698.2" y="28.9" width="419.60" height="430.60" fill="none" stroke="#4a4a4a" stroke-width="1.35"/>
<line x1="726.60" y1="459.5" x2="726.60" y2="463.50" stroke="#484848" stroke-width="1.1"/>
<text x="726.60" y="477.5" font-size="14.2" text-anchor="middle" fill="#4d4d4d">-0.2</text>
<line x1="812.70" y1="459.5" x2="812.70" y2="463.50" stroke="#484848" stroke-width="1.1"/>
<text x="812.70" y="477.5" font-size="14.2" text-anchor="middle" fill="#4d4d4d">-0.1</text>
<line x1="898.80" y1="459.5" x2="898.80" y2="463.50" stroke="#484848" stroke-width="1.1"/>
<text x="898.80" y="477.5" font-size="14.2" text-anchor="middle" fill="#4d4d4d">0.0</text>
<line x1="984.90" y1="459.5" x2="984.90" y2="463.50" stroke="#484848" stroke-width="1.1"/>
<text x="984.90" y="477.5" font-size="14.2" text-anchor="middle" fill="#4d4d4d">0.1</text>
<line x1="1071.00" y1="459.5" x2="1071.00" y2="463.50" stroke="#484848" stroke-width="1.1"/>
<text x="1071.00" y="477.5" font-size="14.2" text-anchor="middle" fill="#4d4d4d">0.2</text>
<line x1="694.20" y1="57.50" x2="698.2" y2="57.50" stroke="#484848" stroke-width="1.1"/>
<text x="690.3" y="62.50" font-size="14.2" text-anchor="end" fill="#4d4d4d">0.2</text>
<line x1="694.20" y1="161.75" x2="698.2" y2="161.75" stroke="#484848" stroke-width="1.1"/>
<text x="690.3" y="166.75" font-size="14.2" text-anchor="end" fill="#4d4d4d">0.1</text>
<line x1="694.20" y1="266.00" x2="698.2" y2="266.00" stroke="#484848" stroke-width="1.1"/>
<text x="690.3" y="271.00" font-size="14.2" text-anchor="end" fill="#4d4d4d">0.0</text>
<line x1="694.20" y1="370.25" x2="698.2" y2="370.25" stroke="#484848" stroke-width="1.1"/>
<text x="690.3" y="375.25" font-size="14.2" text-anchor="end" fill="#4d4d4d">-0.1</text>
<text x="906.8" y="500.5" font-size="21" text-anchor="middle" fill="#000">NMDS1</text>
<text transform="translate(658.4 243.9) rotate(-90)" x="0" y="0" font-size="21.5" text-anchor="middle" fill="#000">NMDS2</text>
<rect x="708.2" y="46.6" width="21" height="20.8" fill="#d0e4ef"/>
<rect x="708.2" y="72.2" width="21" height="21.3" fill="#8ab4d3"/>
<circle cx="718.3" cy="57.4" r="2.2" fill="#c9d9e2" stroke="#16222b" stroke-width="1.5"/>
<path d="M718.60 79.50L721.90 85.15L715.30 85.15Z" fill="#426f90" stroke="#0b161e" stroke-width="1.25"/>
<text x="740" y="62.5" font-size="14.5" fill="#000">Non-Urban</text>
<text x="740" y="87.5" font-size="14.5" fill="#000">Urban</text>
<path d="M1131.8 510.6L1135.5 507.4L1135.5 514Z" fill="#7a7a7a"/>
</svg>
</body></html>
